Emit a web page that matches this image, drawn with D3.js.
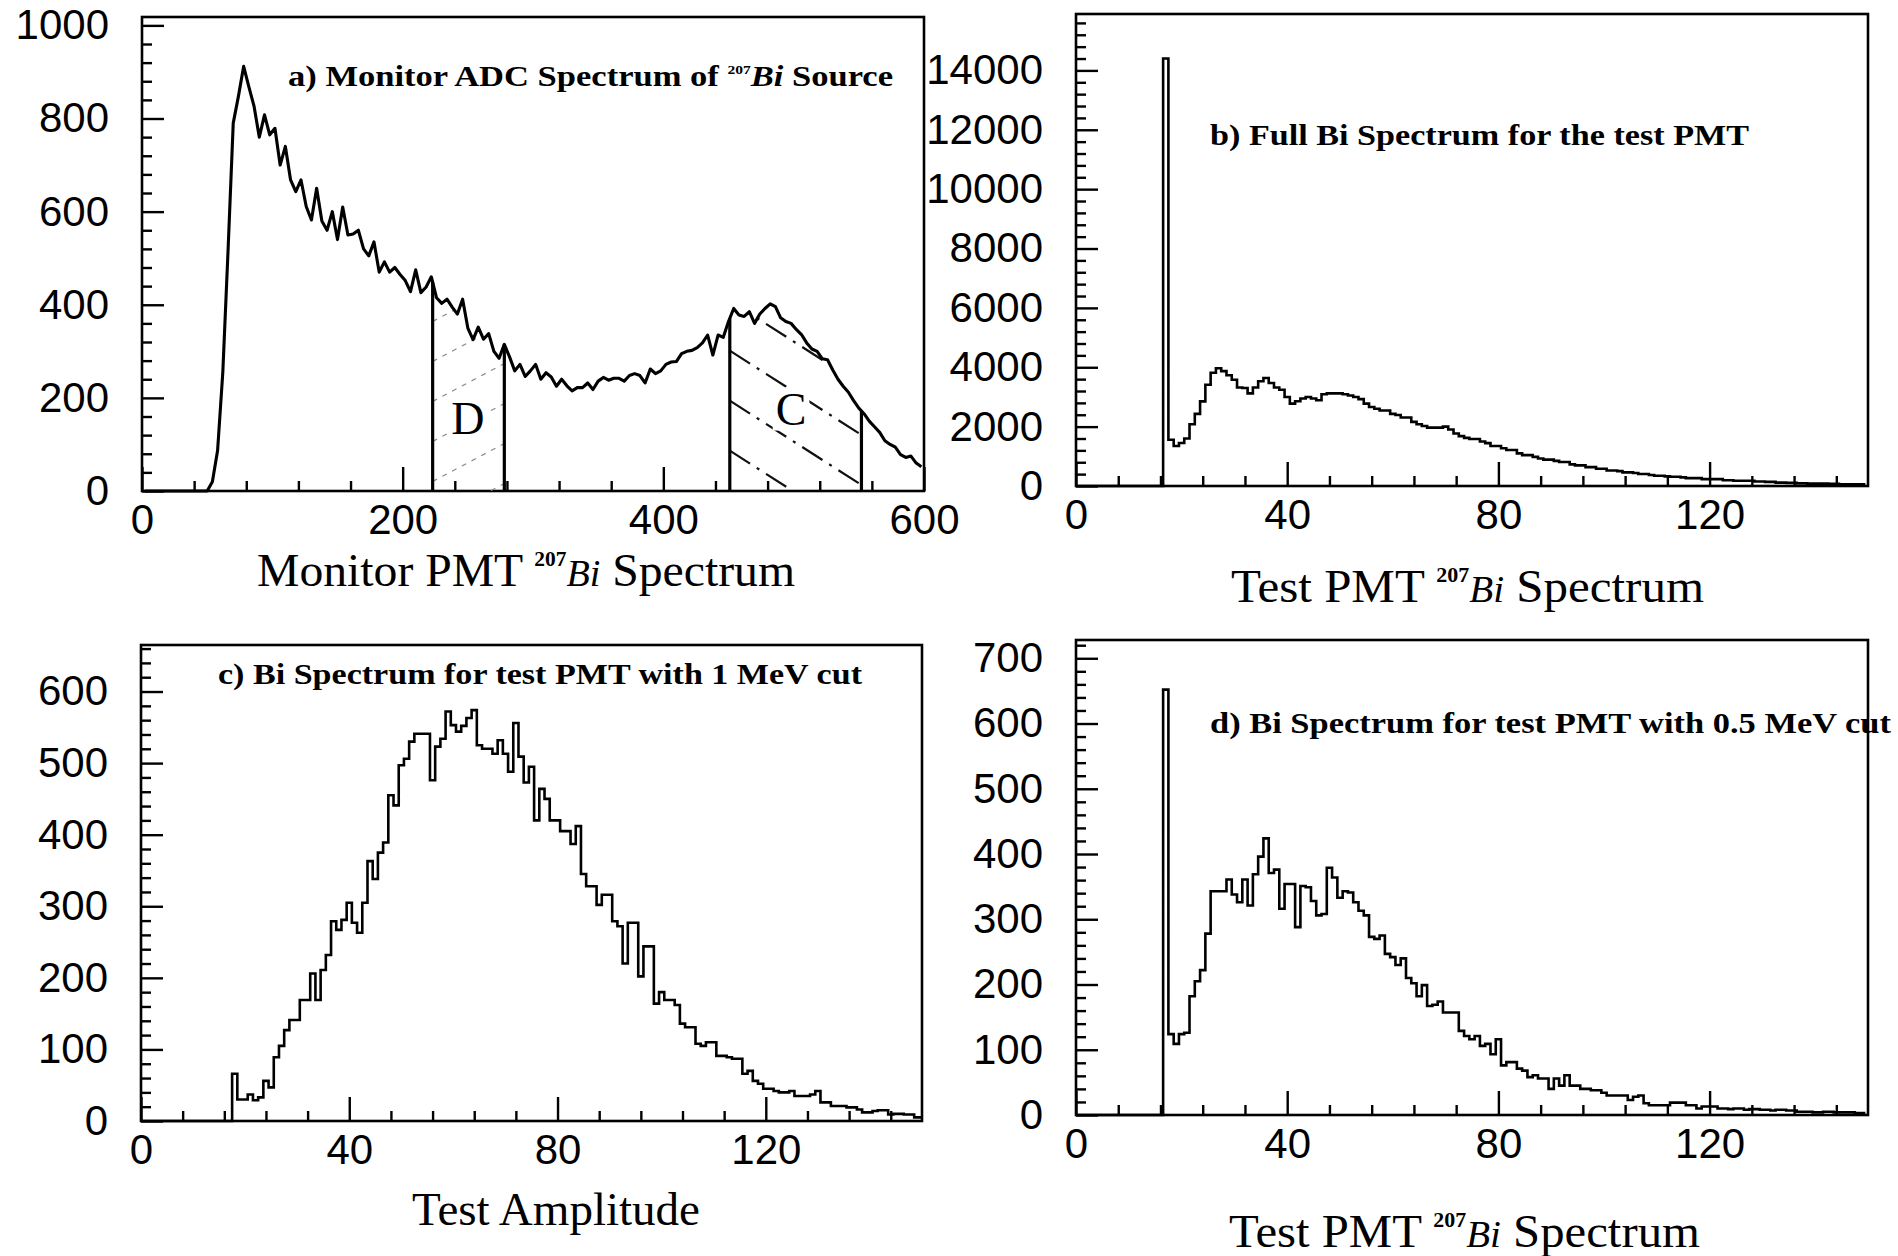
<!DOCTYPE html>
<html>
<head>
<meta charset="utf-8">
<script src="https://cdn.jsdelivr.net/npm/d3@7"></script>
<style>
  html, body { margin: 0; padding: 0; background: #fff; }
  svg { display: block; }
</style>
</head>
<body>
<svg id="chart" width="1898" height="1256"></svg>
<script>
// ---------------------------------------------------------------
// Data
// ---------------------------------------------------------------

// a) Monitor ADC spectrum: 4-channel bins, centres at 2, 6, ..., 598
const monitorBinWidth = 4;
const monitorCounts = [
  0, 0, 0, 0, 0, 0, 0, 0, 0, 0, 0, 0, 0,
  20, 87, 255, 515, 790, 848, 912, 868, 826, 760,
  808, 765, 779, 700, 740, 668, 643, 668, 611, 582,
  650, 580, 560, 600, 540, 610, 550, 552, 560, 520,
  505, 535, 470, 492, 470, 480, 465, 452, 428, 475,
  426, 438, 460, 415, 403, 412, 395, 380, 412, 350,
  325, 352, 326, 338, 300, 285, 315, 288, 258, 272,
  246, 258, 272, 240, 254, 245, 225, 240, 226, 215,
  222, 222, 232, 218, 236, 244, 238, 242, 242, 236,
  248, 252, 248, 232, 262, 252, 258, 272, 277, 278,
  295, 300, 302, 308, 318, 335, 292, 335, 330, 364,
  392, 378, 375, 385, 360, 380, 392, 402, 396, 372,
  364, 360, 347, 336, 318, 305, 300, 284, 282, 260,
  240, 225, 212, 194, 178, 166, 150, 138, 126, 108,
  100, 94, 78, 72, 75, 60, 52
];
// Cut windows on the monitor spectrum (channel limits)
const monitorCutD = [223, 278];
const monitorCutC = [451, 552];

// b) Full Bi spectrum of the test PMT: unit bins, first filled bin = 17
const fullFirstBin = 17;
const fullCounts = [
  14400, 1560, 1350, 1450, 1600, 2080, 2430, 2850, 3410, 3815,
  3965, 3870, 3730, 3580, 3320, 3300, 3120, 3320, 3530, 3640,
  3470, 3320, 3240, 3000, 2775, 2855, 2950, 3000, 2950, 2890,
  3090, 3120, 3120, 3120, 3090, 3050, 3000, 2925, 2775, 2660,
  2600, 2545, 2545, 2430, 2390, 2310, 2310, 2160, 2080, 2020,
  1965, 1965, 1965, 2000, 1905, 1770, 1680, 1620, 1585, 1585,
  1500, 1445, 1350, 1350, 1270, 1215, 1215, 1100, 1040, 1040,
  980, 925, 890, 890, 845, 810, 810, 730, 695, 695,
  635, 635, 580, 580, 520, 520, 500, 460, 460, 440,
  405, 405, 370, 345, 345, 325, 310, 310, 290, 265,
  265, 265, 230, 230, 230, 230, 195, 195, 175, 175,
  175, 175, 150, 150, 140, 140, 115, 115, 105, 105,
  90, 90, 80, 80, 80, 80, 70, 70, 60, 60,
  60, 60, 60
];

// c) Test PMT spectrum with the 1 MeV cut: first filled bin = 18
const cut1FirstBin = 18;
const cut1Counts = [
  66, 30, 30, 37, 29, 33, 56, 47, 89, 105,
  127, 141, 141, 169, 169, 206, 169, 211, 232, 279,
  267, 281, 305, 277, 263, 305, 363, 338, 375, 389,
  455, 441, 497, 506, 530, 541, 541, 541, 476, 523,
  534, 572, 553, 544, 552, 563, 574, 525, 520, 520,
  513, 532, 513, 488, 556, 509, 473, 495, 420, 464,
  450, 420, 420, 405, 405, 387, 412, 345, 328, 328,
  302, 316, 316, 279, 272, 220, 277, 277, 202, 244,
  244, 164, 180, 169, 169, 162, 136, 131, 131, 108,
  105, 110, 110, 91, 91, 89, 87, 87, 66, 70,
  56, 52, 45, 45, 42, 40, 40, 42, 35, 35,
  35, 37, 42, 26, 26, 21, 21, 21, 19, 19,
  16, 12, 12, 14, 15, 15, 9, 10, 10, 9,
  9, 5, 5
];

// d) Test PMT spectrum with the 0.5 MeV cut: first filled bin = 17
const cut05FirstBin = 17;
const cut05Counts = [
  652, 124, 109, 124, 126, 182, 205, 222, 278, 343,
  343, 343, 361, 338, 326, 361, 321, 369, 396, 424,
  371, 376, 316, 354, 354, 288, 351, 349, 328, 306,
  308, 379, 364, 333, 343, 341, 326, 313, 306, 273,
  270, 275, 247, 242, 230, 240, 210, 202, 182, 199,
  167, 169, 174, 157, 157, 157, 129, 121, 116, 121,
  106, 109, 93, 116, 76, 81, 81, 71, 68, 58,
  61, 56, 56, 40, 56, 45, 61, 45, 45, 40,
  40, 38, 38, 34, 30, 30, 30, 30, 23, 28,
  30, 18, 15, 15, 15, 15, 19, 19, 19, 15,
  15, 10, 13, 13, 13, 10, 10, 9, 10, 10,
  8, 9, 9, 8, 8, 7, 8, 8, 7, 7,
  5, 5, 5, 4, 4, 5, 5, 4, 4, 4,
  4, 3, 3
];

// Tick values (labelled) and minor tick steps
const monitorXTicks = [0, 200, 400, 600];
const monitorYTicks = [0, 200, 400, 600, 800, 1000];
const amplitudeXTicks = [0, 40, 80, 120];
const fullYTicks = [0, 2000, 4000, 6000, 8000, 10000, 12000, 14000];
const cut1YTicks = [0, 100, 200, 300, 400, 500, 600];
const cut05YTicks = [0, 100, 200, 300, 400, 500, 600, 700];

// ---------------------------------------------------------------
// Drawing
// ---------------------------------------------------------------
const W = 1898, H = 1256;
const TICK_FONT = '"Liberation Sans", Arial, Helvetica, sans-serif';
const SERIF = '"Liberation Serif", "Times New Roman", serif';

const svg = d3.select("#chart");
svg.append("rect").attr("width", W).attr("height", H).attr("fill", "#fff");

const layout = {
  a: { left: 142, right: 924, top: 17, bottom: 491, xDomain: [0, 600], yDomain: [0, 1018],
       xMajor: monitorXTicks, xMinor: 40, yMajor: monitorYTicks, yMinor: 40 },
  b: { left: 1076, right: 1868, top: 14, bottom: 486, xDomain: [0, 150], yDomain: [0, 15900],
       xMajor: amplitudeXTicks, xMinor: 8, yMajor: fullYTicks, yMinor: 400 },
  c: { left: 141, right: 922, top: 645, bottom: 1121, xDomain: [0, 150], yDomain: [0, 665],
       xMajor: amplitudeXTicks, xMinor: 8, yMajor: cut1YTicks, yMinor: 20 },
  d: { left: 1076, right: 1868, top: 640, bottom: 1115, xDomain: [0, 150], yDomain: [0, 728],
       xMajor: amplitudeXTicks, xMinor: 8, yMajor: cut05YTicks, yMinor: 20 }
};

function setupPanel(p) {
  const x = d3.scaleLinear().domain(p.xDomain).range([p.left, p.right]);
  const y = d3.scaleLinear().domain(p.yDomain).range([p.bottom, p.top]);
  const g = svg.append("g");
  const eps = 1e-9;
  const minorX = d3.range(p.xMinor, p.xDomain[1] + eps, p.xMinor).filter(v => !p.xMajor.includes(v));
  const minorY = d3.range(p.yMinor, p.yDomain[1] + eps, p.yMinor).filter(v => !p.yMajor.includes(v));

  // ticks point inwards from the bottom and left edges
  g.append("g").attr("transform", `translate(0,${p.bottom})`)
    .call(d3.axisBottom(x).tickValues(minorX).tickSizeInner(-10).tickSizeOuter(0).tickFormat(""));
  g.append("g").attr("transform", `translate(0,${p.bottom})`)
    .call(d3.axisBottom(x).tickValues(p.xMajor).tickSizeInner(-24).tickSizeOuter(0)
      .tickPadding(13).tickFormat(d3.format("d")));
  g.append("g").attr("transform", `translate(${p.left},0)`)
    .call(d3.axisLeft(y).tickValues(minorY).tickSizeInner(-10).tickSizeOuter(0).tickFormat(""));
  g.append("g").attr("transform", `translate(${p.left},0)`)
    .call(d3.axisLeft(y).tickValues(p.yMajor).tickSizeInner(-22).tickSizeOuter(0)
      .tickPadding(33).tickFormat(d3.format("d")));

  g.selectAll(".domain").remove();
  g.selectAll(".tick line").attr("stroke", "#000").attr("stroke-width", 2.4);
  g.selectAll(".tick text")
    .attr("font-family", TICK_FONT).attr("font-size", 42).attr("fill", "#000");

  g.append("rect")
    .attr("x", p.left).attr("y", p.top)
    .attr("width", p.right - p.left).attr("height", p.bottom - p.top)
    .attr("fill", "none").attr("stroke", "#000").attr("stroke-width", 2.6);
  return { x, y, g };
}

// step outline of a unit-bin histogram, flat at zero up to the first filled bin
function histogramPoints(firstBin, counts, xMax) {
  const pts = [[0, 0]];
  counts.forEach((v, i) => pts.push([firstBin + i - 0.5, v]));
  pts.push([Math.min(firstBin + counts.length - 0.5, xMax), counts[counts.length - 1]]);
  return pts;
}

function drawHistogram(panel, firstBin, counts, xMax) {
  const line = d3.line()
    .x(d => panel.x(d[0])).y(d => panel.y(d[1]))
    .curve(d3.curveStepAfter);
  panel.g.append("path")
    .attr("d", line(histogramPoints(firstBin, counts, xMax)))
    .attr("fill", "none").attr("stroke", "#000")
    .attr("stroke-width", 2.6).attr("stroke-linejoin", "miter");
}

function richText(parts, opt) {
  const size = opt.size;
  const t = svg.append("text")
    .attr("x", opt.x).attr("y", opt.y)
    .attr("font-family", SERIF).attr("font-size", size)
    .attr("font-weight", opt.weight || "normal").attr("fill", "#000");
  let shift = 0;
  parts.forEach(p => {
    const s = t.append("tspan").text(p.t);
    const target = p.sup ? -0.42 * size : 0;
    if (target !== shift) { s.attr("dy", target - shift); shift = target; }
    if (p.sup) s.attr("font-size", size * 0.45).attr("font-weight", "bold");
    if (p.it) s.attr("font-style", "italic");
    if (p.scale) s.attr("font-size", size * p.scale);
  });
  if (opt.width) t.attr("textLength", opt.width).attr("lengthAdjust", "spacingAndGlyphs");
  return t;
}

// ---------------- a) monitor spectrum ----------------
const pa = setupPanel(layout.a);
const monitorPts = monitorCounts.map((v, i) => [i * monitorBinWidth + monitorBinWidth / 2, v]);

function monitorAt(u) {
  for (let i = 0; i < monitorPts.length - 1; i++) {
    const [u0, v0] = monitorPts[i], [u1, v1] = monitorPts[i + 1];
    if (u >= u0 && u <= u1) return v0 + (v1 - v0) * (u - u0) / (u1 - u0);
  }
  return monitorPts[monitorPts.length - 1][1];
}

function cutWindow(cut, hatch, id) {
  const pts = [[cut[0], monitorAt(cut[0])]]
    .concat(monitorPts.filter(p => p[0] > cut[0] && p[0] < cut[1]))
    .concat([[cut[1], monitorAt(cut[1])]]);
  const area = d3.area().x(d => pa.x(d[0])).y0(pa.y(0)).y1(d => pa.y(d[1]));
  svg.append("clipPath").attr("id", id).append("path").attr("d", area(pts));

  // diagonal hatching, clipped to the area under the spectrum
  const x0 = pa.x(cut[0]), x1 = pa.x(cut[1]);
  const yTop = d3.min(pts, d => pa.y(d[1])), yBot = pa.y(0);
  const ax = pa.x(hatch.anchor[0]), ay = pa.y(hatch.anchor[1]);
  const lineY = (x, k) => ay + hatch.slope * (x - ax) + k * hatch.spacing;
  const hg = pa.g.append("g").attr("clip-path", `url(#${id})`);
  for (let k = -40; k <= 40; k++) {
    const ya = lineY(x0, k), yb = lineY(x1, k);
    if (Math.max(ya, yb) < yTop || Math.min(ya, yb) > yBot) continue;
    hg.append("line")
      .attr("x1", x0).attr("y1", ya).attr("x2", x1).attr("y2", yb)
      .attr("stroke", hatch.color).attr("stroke-width", hatch.width)
      .attr("stroke-dasharray", hatch.dash);
  }
  // cut edges
  cut.forEach(u => {
    pa.g.append("line")
      .attr("x1", pa.x(u)).attr("x2", pa.x(u))
      .attr("y1", pa.y(0)).attr("y2", pa.y(monitorAt(u)))
      .attr("stroke", "#000").attr("stroke-width", 3.2);
  });
}

cutWindow(monitorCutD,
  { anchor: [227.6, 285], slope: -0.53, spacing: 40, color: "#8a8a8a", width: 1.2, dash: "5,6" }, "clipD");
cutWindow(monitorCutC,
  { anchor: [454, 296], slope: 0.64, spacing: 50, color: "#111", width: 2.2, dash: "24,8,3,8" }, "clipC");

function windowLabel(text, u, v) {
  const t = pa.g.append("text")
    .attr("x", pa.x(u)).attr("y", pa.y(v))
    .attr("text-anchor", "middle").attr("dominant-baseline", "central")
    .attr("font-family", SERIF).attr("font-size", 46).attr("fill", "#000")
    .text(text);
  const bb = t.node().getBBox();
  pa.g.insert("rect", () => t.node())
    .attr("x", bb.x - 3).attr("y", bb.y + 4)
    .attr("width", bb.width + 6).attr("height", bb.height - 8)
    .attr("fill", "#fff");
}
windowLabel("D", 250, 156);
windowLabel("C", 498, 176);

pa.g.append("path")
  .attr("d", d3.line().x(d => pa.x(d[0])).y(d => pa.y(d[1]))(monitorPts))
  .attr("fill", "none").attr("stroke", "#000")
  .attr("stroke-width", 3.1).attr("stroke-linejoin", "round");

// ---------------- b), c), d) test PMT spectra ----------------
const pb = setupPanel(layout.b);
drawHistogram(pb, fullFirstBin, fullCounts, 150);
const pc = setupPanel(layout.c);
drawHistogram(pc, cut1FirstBin, cut1Counts, 150);
const pd = setupPanel(layout.d);
drawHistogram(pd, cut05FirstBin, cut05Counts, 150);

// ---------------- titles ----------------
richText([{ t: "a) Monitor ADC Spectrum of " }, { t: "207", sup: true }, { t: "Bi", it: true }, { t: " Source" }],
  { x: 288, y: 86, size: 29, weight: "bold", width: 605 });
richText([{ t: "b) Full Bi Spectrum for the test PMT" }],
  { x: 1210, y: 145, size: 29, weight: "bold", width: 539 });
richText([{ t: "c) Bi Spectrum for test PMT with 1 MeV cut" }],
  { x: 218, y: 684, size: 29, weight: "bold", width: 644 });
richText([{ t: "d) Bi Spectrum for test PMT with 0.5 MeV cut" }],
  { x: 1210, y: 733, size: 29, weight: "bold", width: 681 });

// ---------------- axis titles ----------------
richText([{ t: "Monitor PMT " }, { t: "207", sup: true }, { t: "Bi", it: true, scale: 0.8 }, { t: " Spectrum" }],
  { x: 257, y: 586, size: 47, width: 538 });
richText([{ t: "Test PMT " }, { t: "207", sup: true }, { t: "Bi", it: true, scale: 0.8 }, { t: " Spectrum" }],
  { x: 1231, y: 602, size: 47, width: 473 });
richText([{ t: "Test Amplitude" }],
  { x: 412, y: 1225, size: 47, width: 288 });
richText([{ t: "Test PMT " }, { t: "207", sup: true }, { t: "Bi", it: true, scale: 0.8 }, { t: " Spectrum" }],
  { x: 1229, y: 1247, size: 47, width: 471 });
</script>
</body>
</html>
